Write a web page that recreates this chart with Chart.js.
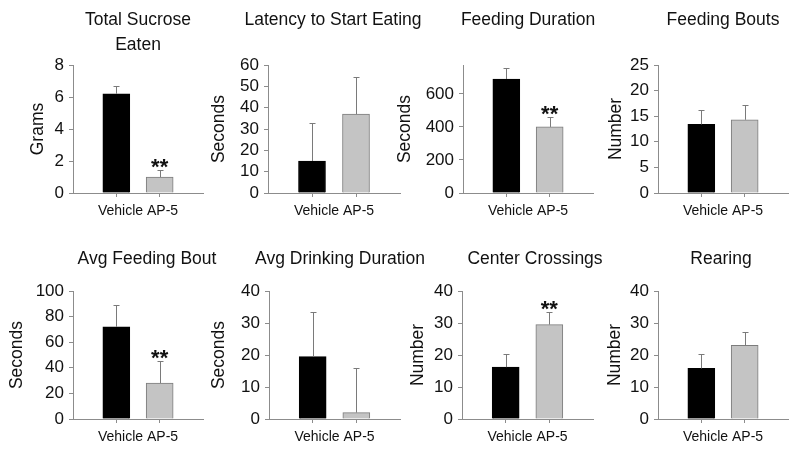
<!DOCTYPE html>
<html>
<head>
<meta charset="utf-8">
<script src="https://cdn.jsdelivr.net/npm/chart.js@4.4.0/dist/chart.umd.min.js"></script>
<style>
  html, body { margin: 0; padding: 0; background: #fff; }
  #wrap { position: relative; width: 800px; height: 453px; overflow: hidden; }
  #wrap canvas { position: absolute; }
</style>
</head>
<body>
<div id="wrap"></div>
<script>
// data
const categories = ["Vehicle", "AP-5"];
const titles = [["Total Sucrose", "Eaten"], "Latency to Start Eating", "Feeding Duration", "Feeding Bouts",
  "Avg Feeding Bout", "Avg Drinking Duration", "Center Crossings", "Rearing"];
const yTitles = ["Grams", "Seconds", "Seconds", "Number", "Seconds", "Seconds", "Number", "Number"];
const vehicleMeans = [6.2, 15, 690, 13.4, 72, 19.5, 16.2, 15.8];
const vehicleErrors = [0.5, 18, 68, 2.9, 17, 14, 4.2, 4.5];
const ap5Means = [1.0, 37, 400, 14.3, 28, 2, 29.5, 23];
const ap5Errors = [0.45, 17.5, 63, 2.9, 17.5, 14, 4.0, 4.3];
const ap5Stars = ["**", "", "**", "", "**", "", "**", ""];
const yMax = [8, 60, 775, 25, 100, 40, 40, 40];
const yStep = [2, 10, 200, 5, 20, 10, 10, 10];

// panel placement (page pixels)
const panelPos = [
  { left: -10, axis: 73, right: 203, yTitle: 38, title: 138 },
  { left: 190, axis: 268, right: 400, yTitle: 219, title: 333 },
  { left: 390, axis: 463, right: 593, yTitle: 405, title: 528 },
  { left: 590, axis: 658, right: 788, yTitle: 616, title: 723 },
  { left: -10, axis: 73, right: 203, yTitle: 17, title: 147 },
  { left: 190, axis: 269, right: 400, yTitle: 219, title: 340 },
  { left: 390, axis: 462, right: 593, yTitle: 418, title: 535 },
  { left: 590, axis: 658, right: 788, yTitle: 615, title: 721 },
];

const FONT = 'Arial, "Liberation Sans", sans-serif';
const AXIS = "#8c8c8c";
const TEXT = "#111";
Chart.defaults.font.family = FONT;
Chart.defaults.color = TEXT;

// error bars + significance stars
const errorBars = {
  id: "errorBars",
  afterDatasetsDraw(chart) {
    const ctx = chart.ctx;
    const y = chart.scales.y;
    const ds = chart.data.datasets[0];
    const meta = chart.getDatasetMeta(0);
    ctx.save();
    meta.data.forEach((bar, j) => {
      const v = ds.data[j];
      if (v == null) return;
      const top = Math.round(y.getPixelForValue(v + ds.errors[j])) + 0.5;
      const x = Math.round(bar.x) + 0.5;
      ctx.strokeStyle = "#7a7a7a";
      ctx.lineWidth = 1;
      ctx.beginPath();
      ctx.moveTo(x, bar.y);
      ctx.lineTo(x, top);
      ctx.moveTo(x - 3, top);
      ctx.lineTo(x + 3, top);
      ctx.stroke();
      if (ds.stars[j]) {
        ctx.fillStyle = TEXT;
        ctx.font = "bold 22px " + FONT;
        ctx.textAlign = "center";
        ctx.textBaseline = "alphabetic";
        ctx.fillText(ds.stars[j], bar.x, top + 3.5);
      }
    });
    ctx.restore();
  },
};

const wrap = document.getElementById("wrap");

for (let i = 0; i < 8; i++) {
  const row = i < 4 ? 0 : 1;
  const p = panelPos[i];
  const width = 2 * (p.title - p.left);
  const height = 226;
  const rightGap = p.left + width - p.right;

  const canvas = document.createElement("canvas");
  canvas.width = width;
  canvas.height = height;
  canvas.style.left = p.left + "px";
  canvas.style.top = row * 226 + "px";
  wrap.appendChild(canvas);

  const twoLines = Array.isArray(titles[i]);
  let titlePad;
  if (twoLines) titlePad = { top: 7.5, bottom: 7.5 };
  else if (row === 0) titlePad = { top: 9.5, bottom: 34.5 };
  else titlePad = { top: 22.5, bottom: 21.5 };

  const tickValues = [];
  for (let v = 0; v <= yMax[i] + 1e-9; v += yStep[i]) tickValues.push(v);

  new Chart(canvas, {
    type: "bar",
    data: {
      labels: ["", ...categories, ""],
      datasets: [
        {
          data: [null, vehicleMeans[i], ap5Means[i], null],
          errors: [0, vehicleErrors[i], ap5Errors[i], 0],
          stars: ["", "", ap5Stars[i], ""],
          backgroundColor: ["rgba(0,0,0,0)", "#000000", "#c4c4c4", "rgba(0,0,0,0)"],
          borderColor: ["rgba(0,0,0,0)", "#000000", "#7c7c7c", "rgba(0,0,0,0)"],
          borderWidth: 1,
          barThickness: 27,
          yAxisID: "y",
        },
      ],
    },
    options: {
      responsive: false,
      animation: false,
      layout: { padding: 0 },
      plugins: {
        legend: { display: false },
        tooltip: { enabled: false },
        title: {
          display: true,
          text: titles[i],
          color: TEXT,
          font: { size: 17.5, weight: "normal", lineHeight: twoLines ? "25px" : 1.2 },
          padding: titlePad,
        },
      },
      scales: {
        x: {
          type: "category",
          offset: false,
          grid: {
            offset: false,
            drawOnChartArea: false,
            drawTicks: true,
            tickLength: 4,
            color: (c) => (c.index === 1 || c.index === 2 ? AXIS : "rgba(0,0,0,0)"),
          },
          border: { color: AXIS },
          ticks: { display: false },
          title: {
            display: true,
            text: categories.join(" "),
            color: TEXT,
            font: { size: 14 },
            padding: { top: 0, bottom: 6.6 },
          },
          afterFit: (s) => { s.height = 33; },
        },
        y: {
          min: 0,
          max: yMax[i],
          ticks: { font: { size: 17 }, color: TEXT, padding: 5, autoSkip: false },
          grid: { drawOnChartArea: false, tickLength: 4, color: AXIS },
          border: { color: AXIS },
          title: {
            display: true,
            text: yTitles[i],
            color: TEXT,
            font: { size: 17.5 },
            padding: { top: p.yTitle - p.left - 10.5, bottom: 0 },
          },
          afterBuildTicks: (s) => {
            s.ticks = tickValues.map((v) => ({ value: v }));
          },
          afterFit: (s) => { s.width = p.axis - p.left; },
        },
        // empty spacer on the right so the title centres where the original does
        spacer: {
          type: "linear",
          position: "right",
          grid: { display: false },
          border: { display: false },
          ticks: { display: false },
          afterFit: (s) => { s.width = rightGap; },
        },
      },
    },
    plugins: [errorBars],
  });
}
</script>
</body>
</html>
